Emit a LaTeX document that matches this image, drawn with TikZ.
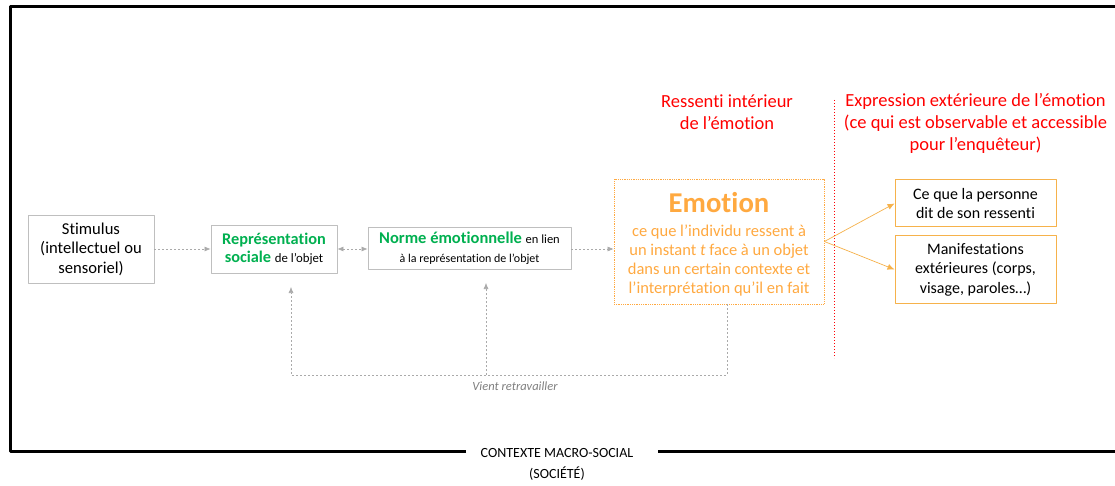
\documentclass[tikz,border=0pt]{standalone}
\usepackage{fontspec}
\setmainfont{Carlito}[Ligatures={NoCommon}]
\usetikzlibrary{arrows.meta,calc}
\definecolor{boxgray}{RGB}{191,191,191}
\definecolor{arrgray}{RGB}{170,170,170}
\definecolor{emoorange}{RGB}{255,169,64}
\definecolor{outorange}{RGB}{246,178,75}
\definecolor{normgreen}{RGB}{0,176,80}
\definecolor{sepred}{RGB}{255,0,0}
\tikzset{
  graybox/.style={draw=boxgray, line width=0.9pt, align=center, inner sep=2pt},
  outbox/.style={draw=outorange, line width=1pt, align=center, inner sep=2pt, minimum width=161pt},
  garrow/.style={arrgray, line width=0.6pt, dash pattern=on 2pt off 2pt, -{Latex[length=6pt,width=5pt]}},
  oarrow/.style={outorange, line width=0.7pt, -{Latex[length=7pt,width=6pt]}},
  redtext/.style={text=sepred, align=center, font=\fontsize{18.5}{22}\selectfont},
}
\begin{document}
\begin{tikzpicture}[x=1pt, y=-1pt, line join=round, font=\fontsize{16}{19.5}\selectfont]
  \useasboundingbox[fill=white] (0,0) rectangle (1115,486);
  % cadre du contexte
  \draw[line width=3pt] (466,451) -| (10,7) -- (1125,7) |- (658,451);
  \node[align=center, font=\fontsize{14}{21}\selectfont] (contexte) at (557,464) {CONTEXTE MACRO-SOCIAL\\(SOCIÉTÉ)};

  \node[graybox, minimum width=126pt, minimum height=68pt, font=\fontsize{16.6}{19.5}\selectfont] (stimulus) at (91,249) {Stimulus\\(intellectuel ou\\sensoriel)};
  \node[graybox, minimum width=126pt, minimum height=48pt, font=\fontsize{16.3}{18.5}\selectfont] (repr) at (274,249)
    {\textcolor{normgreen}{\bfseries Représentation}\\\textcolor{normgreen}{\bfseries sociale} {\fontsize{12.8}{15}\selectfont de l’objet}};
  \node[graybox, minimum width=203pt, minimum height=42pt, font=\fontsize{16.5}{18.5}\selectfont] (norme) at (469.5,248)
    {\textcolor{normgreen}{\bfseries Norme émotionnelle} {\fontsize{12.5}{15}\selectfont en lien}\\{\fontsize{12}{15}\selectfont à la représentation de l’objet}};
  \node[draw=emoorange, densely dotted, line width=0.8pt, minimum width=210pt, minimum height=125pt, inner sep=0pt] (emotion) at (719,241.5) {};
  \node[text=emoorange, font=\fontsize{28.7}{30}\selectfont\bfseries] (emotitle) at (719,203) {Emotion};
  \node[text=emoorange, align=center, font=\fontsize{16.5}{19}\selectfont] (emotext) at (719,261)
    {ce que l’individu ressent à\\un instant {\itshape t} face à un objet\\dans un certain contexte et\\l’interprétation qu’il en fait};
  \node[outbox, minimum height=47pt] (dit) at (975.5,203.5) {Ce que la personne\\dit de son ressenti};
  \node[outbox, minimum height=67pt] (manif) at (975.5,269.5) {Manifestations\\extérieures (corps,\\visage, paroles…)};

  \node[redtext] (ressenti) at (727,112) {Ressenti intérieur\\de l’émotion};
  \node[redtext] (expression) at (975.5,123) {Expression extérieure de l’émotion\\(ce qui est observable et accessible\\pour l’enquêteur)};
  \draw[sepred, dotted, line width=1pt] (834,100) -- (834,358);

  \draw[garrow] (stimulus.east) -- (repr.west);
  \draw[garrow, {Latex[length=6pt,width=5pt]}-{Latex[length=6pt,width=5pt]}] (repr.east) -- (repr.east -| norme.west);
  \draw[garrow] (norme.east |- repr.east) -- (repr.east -| emotion.west);
  \draw[oarrow] (emotion.east) -- (dit.west);
  \draw[oarrow] (emotion.east) -- (manif.west);

  % retour vers les representations
  \coordinate (fbR) at (727,375);
  \coordinate (fbL) at (291,375);
  \coordinate (fbM) at (486,375);
  \coordinate (reprIn) at (291,287);
  \coordinate (normeIn) at (486,283);
  \draw[garrow] (emotion.south -| fbR) -- (fbR) -- (fbL) -- (reprIn);
  \draw[garrow] (fbM) -- (normeIn);
  \node[text=gray, font=\fontsize{12.5}{15}\selectfont\itshape] (retravail) at (515,386) {Vient retravailler};
\end{tikzpicture}
\end{document}
